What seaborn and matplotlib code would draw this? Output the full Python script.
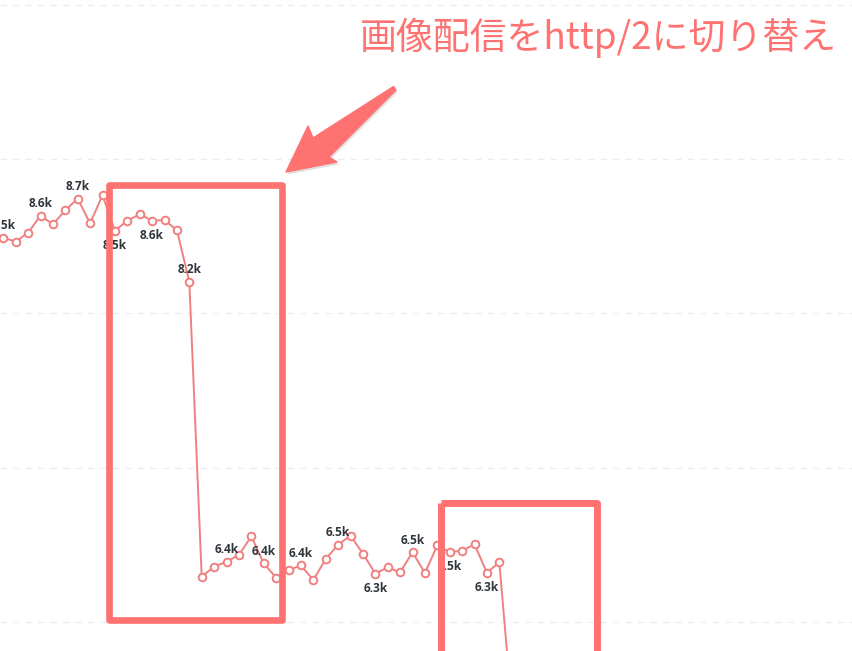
import numpy as np
import pandas as pd
import matplotlib
matplotlib.use("Agg")
import matplotlib.pyplot as plt
from matplotlib.patches import Rectangle, Polygon
import seaborn as sns

# daily values; the last one drops below the crop
values = [8490, 8464, 8522, 8633, 8577, 8668, 8743, 8583, 8765, 8535,
          8600, 8642, 8600, 8605, 8538, 8205, 6294, 6358, 6391, 6434,
          6555, 6380, 6287, 6335, 6367, 6272, 6408, 6501, 6559, 6443,
          6313, 6354, 6322, 6452, 6317, 6497, 6452, 6462, 6503, 6319,
          6387, 5450]
grid_values = [6000, 7000, 8000, 9000, 10000]
note_text = "画像配信をhttp/2に切り替え"

line_color = "#f08080"
red = "#ff7272"

df = pd.DataFrame({"idx": np.arange(len(values)), "value": values})

sns.set_style("white")
plt.rcParams['font.family'] = ['Noto Sans CJK JP', 'DejaVu Sans']

fig = plt.figure(figsize=(8.52, 6.51), dpi=100)
ax = fig.add_axes([0, 0, 1, 1])

for g in grid_values:
    ax.axhline(g, color="#ececec", lw=0.9, ls=(0, (5, 5)), zorder=0)

sns.lineplot(data=df, x="idx", y="value", ax=ax, color=line_color,
             lw=1.4, marker="o", markersize=5.5, markerfacecolor="white",
             markeredgecolor=line_color, markeredgewidth=1.4, zorder=3)

# every third point gets a label, below it when it's a local dip
for i in range(0, len(values) - 1, 3):
    v = values[i]
    left = values[i - 1] if i > 0 else v + 1
    right = values[i + 1]
    below = v < left and v < right
    ax.annotate(f"{v/1000:.1f}k", (i, v),
                xytext=(0, -10.5 if below else 8.5), textcoords="offset points",
                ha="center", va="center", fontsize=8.6, fontweight="bold",
                color="#2f353b", family=["Open Sans", "DejaVu Sans"], zorder=4)

# crop like the screenshot
ax.set_xlim(-0.266, 68.44)
ax.set_ylim(5812, 10030)
ax.axis("off")

# overlay in pixel coords for the hand-drawn markup
ov = fig.add_axes([0, 0, 1, 1], facecolor="none")
ov.set_xlim(0, 852)
ov.set_ylim(651, 0)
ov.axis("off")

ov.add_patch(Rectangle((108.5, 184.5), 173.5, 435.5, fill=False,
                       ec=red, lw=4.8, joinstyle="round"))
ov.add_patch(Rectangle((440.5, 502.5), 156, 260, fill=False,
                       ec=red, lw=5.0, joinstyle="round"))

arrow = [(393.5, 86.5), (313, 138), (308, 126), (286, 172),
         (337, 162), (329, 157), (396, 90)]
shadow = [(x + 1.5, y + 2.5) for x, y in arrow]
ov.add_patch(Polygon(shadow, closed=True, fc="#999999", ec="none", alpha=0.3))
ov.add_patch(Polygon(arrow, closed=True, fc=red, ec=red, lw=1, joinstyle="round"))

ov.text(360, 38, note_text, color=red, fontsize=26.6, ha="left", va="center")

fig.savefig("out.png", dpi=100)
